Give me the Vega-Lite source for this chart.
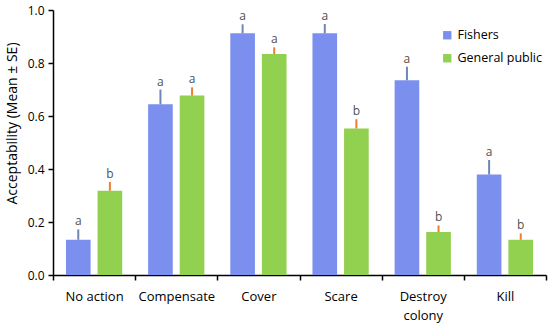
{
  "$schema": "https://vega.github.io/schema/vega-lite/v6.json",
  "width": 493,
  "height": 265,
  "autosize": "none",
  "padding": {"left": 53, "top": 10, "right": 4, "bottom": 51},
  "background": "white",
  "config": {
    "view": {"stroke": null},
    "font": "Open Sans"
  },
  "data": {
    "values": [
      {"action": "No action", "group": "Fishers", "mean": 0.133, "upper": 0.172, "letter": "a"},
      {"action": "No action", "group": "General public", "mean": 0.318, "upper": 0.351, "letter": "b"},
      {"action": "Compensate", "group": "Fishers", "mean": 0.644, "upper": 0.700, "letter": "a"},
      {"action": "Compensate", "group": "General public", "mean": 0.677, "upper": 0.708, "letter": "a"},
      {"action": "Cover", "group": "Fishers", "mean": 0.912, "upper": 0.946, "letter": "a"},
      {"action": "Cover", "group": "General public", "mean": 0.834, "upper": 0.859, "letter": "a"},
      {"action": "Scare", "group": "Fishers", "mean": 0.912, "upper": 0.947, "letter": "a"},
      {"action": "Scare", "group": "General public", "mean": 0.553, "upper": 0.588, "letter": "b"},
      {"action": "Destroy colony", "group": "Fishers", "mean": 0.735, "upper": 0.786, "letter": "a"},
      {"action": "Destroy colony", "group": "General public", "mean": 0.162, "upper": 0.187, "letter": "b"},
      {"action": "Kill", "group": "Fishers", "mean": 0.379, "upper": 0.434, "letter": "a"},
      {"action": "Kill", "group": "General public", "mean": 0.133, "upper": 0.157, "letter": "b"}
    ]
  },
  "encoding": {
    "x": {
      "field": "action",
      "type": "nominal",
      "sort": null,
      "scale": {"paddingInner": 0, "paddingOuter": 0},
      "axis": {
        "title": null,
        "labelAngle": 0,
        "labelFontSize": 13,
        "labelColor": "#000000",
        "labelPadding": 10,
        "labelLineHeight": 19,
        "labelExpr": "datum.value == 'Destroy colony' ? ['Destroy', 'colony'] : datum.label",
        "domainColor": "#000000",
        "domainWidth": 1.5,
        "tickColor": "#000000",
        "tickBand": "extent",
        "tickSize": 5,
        "tickWidth": 1.5
      }
    },
    "xOffset": {
      "field": "group",
      "type": "nominal",
      "scale": {"paddingInner": 0.22, "paddingOuter": 0.41}
    }
  },
  "layer": [
    {
      "mark": {"type": "bar"},
      "encoding": {
        "y": {
          "field": "mean",
          "type": "quantitative",
          "scale": {"domain": [0, 1]},
          "axis": {
            "title": "Acceptability (Mean ± SE)",
            "titleFontSize": 14,
            "titleFontWeight": "normal",
            "titleColor": "#000000",
            "titlePadding": 8,
            "titleY": 113,
            "values": [0, 0.2, 0.4, 0.6, 0.8, 1.0],
            "format": ".1f",
            "labelFontSize": 12,
            "labelColor": "#000000",
            "labelPadding": 4,
            "grid": false,
            "domainColor": "#000000",
            "domainWidth": 1.5,
            "tickColor": "#000000",
            "tickSize": 5,
            "tickWidth": 1.5
          }
        },
        "color": {
          "field": "group",
          "type": "nominal",
          "scale": {"domain": ["Fishers", "General public"], "range": ["#7b90ee", "#92d050"]},
          "legend": {
            "title": null,
            "orient": "none",
            "legendX": 388,
            "legendY": 19,
            "symbolType": "square",
            "symbolSize": 70,
            "symbolStrokeWidth": 0,
            "labelFontSize": 12.5,
            "labelColor": "#000000",
            "rowPadding": 10,
            "labelOffset": 4
          }
        }
      }
    },
    {
      "mark": {"type": "rule", "strokeWidth": 2},
      "encoding": {
        "y": {"field": "mean", "type": "quantitative"},
        "y2": {"field": "upper"},
        "color": {
          "field": "group",
          "type": "nominal",
          "scale": {"domain": ["Fishers", "General public"], "range": ["#7b90ee", "#92d050"]},
          "legend": null
        },
        "stroke": {
          "field": "group",
          "type": "nominal",
          "scale": {"domain": ["Fishers", "General public"], "range": ["#6f86b6", "#ed7d31"]},
          "legend": null
        }
      }
    },
    {
      "mark": {"type": "text", "baseline": "alphabetic", "dy": -4, "fontSize": 12, "color": "#505050"},
      "encoding": {
        "y": {"field": "upper", "type": "quantitative"},
        "text": {"field": "letter"}
      }
    }
  ]
}
